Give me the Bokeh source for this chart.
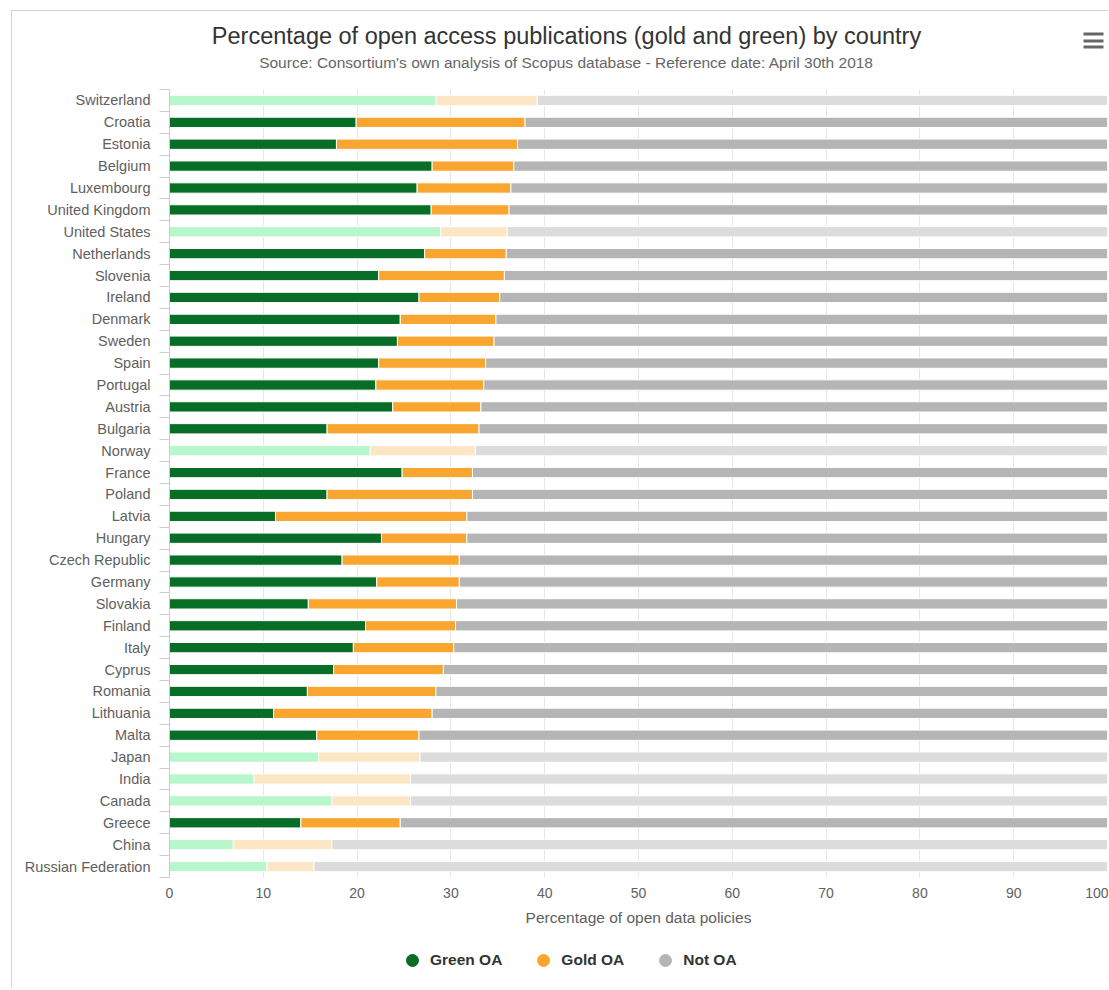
import math
from bokeh.plotting import figure
from bokeh.layouts import column
from bokeh.models import (ColumnDataSource, Range1d, FixedTicker, Legend, LegendItem)
from bokeh.core.properties import value
from bokeh.embed import file_html
from bokeh.resources import INLINE

title_text = "Percentage of open access publications (gold and green) by country"
subtitle_text = "Source: Consortium's own analysis of Scopus database - Reference date: April 30th 2018"
x_axis_title = "Percentage of open data policies"

countries = ["Switzerland", "Croatia", "Estonia", "Belgium", "Luxembourg",
             "United Kingdom", "United States", "Netherlands", "Slovenia", "Ireland",
             "Denmark", "Sweden", "Spain", "Portugal", "Austria", "Bulgaria", "Norway",
             "France", "Poland", "Latvia", "Hungary", "Czech Republic", "Germany",
             "Slovakia", "Finland", "Italy", "Cyprus", "Romania", "Lithuania", "Malta",
             "Japan", "India", "Canada", "Greece", "China", "Russian Federation"]
green_oa = [28.4, 19.9, 17.8, 28.0, 26.4, 27.9, 28.9, 27.2, 22.3, 26.6,
            24.6, 24.3, 22.3, 22.0, 23.8, 16.8, 21.4, 24.8, 16.8, 11.3,
            22.6, 18.4, 22.1, 14.8, 20.9, 19.6, 17.5, 14.7, 11.1, 15.7,
            15.9, 9.0, 17.3, 14.0, 6.8, 10.4]
gold_oa = [10.8, 18.0, 19.3, 8.7, 10.0, 8.3, 7.1, 8.7, 13.4, 8.6,
           10.2, 10.3, 11.4, 11.5, 9.4, 16.2, 11.2, 7.5, 15.5, 20.4,
           9.1, 12.5, 8.8, 15.8, 9.6, 10.7, 11.7, 13.7, 16.9, 10.9,
           10.8, 16.7, 8.4, 10.6, 10.5, 5.0]
eu_member = [False, True, True, True, True, True, False, True, True, True,
             True, True, True, True, True, True, False, True, True, True,
             True, True, True, True, True, True, True, True, True, True,
             False, False, False, True, False, False]
x_ticks = [0, 10, 20, 30, 40, 50, 60, 70, 80, 90, 100]
series_names = ["Green OA", "Gold OA", "Not OA"]
series_colors = ["#086d26", "#f9a630", "#b5b5b5"]
faded_colors = ["#b7f7cb", "#fde6c6", "#dcdcdc"]

FONT = "Liberation Sans"
W = 1108
LEFT = 169          # frame left edge (page px); frames of the column are aligned
RIGHT = W - 1
HEAD_H = 80
MAIN_H = 852
FOOT_H = 56


def blank(height):
    f = figure(width=W, height=height, x_range=Range1d(LEFT, RIGHT),
               y_range=Range1d(height, 0), output_backend="svg", toolbar_location=None,
               x_axis_location=None, y_axis_location=None,
               min_border_left=0, min_border_right=0, min_border_top=0, min_border_bottom=0)
    f.outline_line_color = None
    f.xgrid.visible = False
    f.ygrid.visible = False
    f.border_fill_color = None
    f.background_fill_color = None
    return f


# ---------------- header (title, subtitle, menu icon) ----------------
head = blank(HEAD_H)
head.text(x=[566], y=[35], text=[title_text], text_align="center", text_baseline="middle",
          text_font=value(FONT), text_font_size="23.5px", text_color="#333333")
head.text(x=[566], y=[62], text=[subtitle_text], text_align="center", text_baseline="middle",
          text_font=value(FONT), text_font_size="15.5px", text_color="#666666")
head.quad(left=[1083, 1083, 1083], right=[1103, 1103, 1103],
          top=[32, 39, 45], bottom=[35, 42, 48], fill_color="#666666", line_color=None)

# ---------------- main chart ----------------
n = len(countries)
ys = list(range(n))
gold_end = [g + o for g, o in zip(green_oa, gold_oa)]
src = ColumnDataSource(dict(
    y=ys,
    g_l=[0] * n, g_r=green_oa,
    o_l=green_oa, o_r=gold_end,
    n_l=gold_end, n_r=[100] * n,
    g_c=[series_colors[0] if e else faded_colors[0] for e in eu_member],
    o_c=[series_colors[1] if e else faded_colors[1] for e in eu_member],
    n_c=[series_colors[2] if e else faded_colors[2] for e in eu_member],
))

p = figure(width=W, height=MAIN_H, x_range=Range1d(0, 100),
           y_range=Range1d(n - 0.5, -0.5), output_backend="svg",
           toolbar_location=None, min_border_left=LEFT, min_border_right=W - RIGHT,
           min_border_top=9, min_border_bottom=55)
p.outline_line_color = None
p.border_fill_color = None
p.background_fill_color = "white"

bar_h = 0.47
for l, r, c in [("g_l", "g_r", "g_c"), ("o_l", "o_r", "o_c"), ("n_l", "n_r", "n_c")]:
    p.hbar(y="y", left=l, right=r, height=bar_h, fill_color=c,
           line_color="white", line_width=1, source=src)

# y axis
p.yaxis.ticker = FixedTicker(ticks=ys, minor_ticks=[i - 0.5 for i in range(n + 1)])
p.yaxis.major_label_overrides = {i: c for i, c in enumerate(countries)}
p.yaxis.major_tick_out = 0
p.yaxis.major_tick_in = 0
p.yaxis.major_tick_line_color = None
p.yaxis.minor_tick_out = 10
p.yaxis.minor_tick_in = 0
p.yaxis.minor_tick_line_color = "#cccccc"
p.yaxis.axis_line_color = "#cccccc"
p.yaxis.major_label_standoff = 9
p.yaxis.major_label_text_font = FONT
p.yaxis.major_label_text_font_size = "14.5px"
p.yaxis.major_label_text_color = "#606060"
p.ygrid.visible = False

# x axis
p.xaxis.ticker = FixedTicker(ticks=x_ticks)
p.xgrid.ticker = FixedTicker(ticks=x_ticks)
p.xgrid.grid_line_color = "#e6e6e6"
p.xaxis.axis_line_color = None
p.xaxis.major_tick_line_color = None
p.xaxis.minor_tick_line_color = None
p.xaxis.major_tick_out = 0
p.xaxis.major_label_standoff = 10
p.xaxis.major_label_text_font = FONT
p.xaxis.major_label_text_font_size = "14px"
p.xaxis.major_label_text_color = "#606060"
p.xaxis.axis_label = x_axis_title
p.xaxis.axis_label_text_font = FONT
p.xaxis.axis_label_text_font_size = "15.5px"
p.xaxis.axis_label_text_font_style = "normal"
p.xaxis.axis_label_text_color = "#606060"
p.xaxis.axis_label_standoff = 8

# ---------------- footer with legend (circle markers) ----------------
foot = blank(FOOT_H)
rends = []
for c in series_colors:
    rends.append(foot.scatter(x=[math.nan], y=[math.nan], marker="circle", size=14,
                              fill_color=c, line_color=c))
legend = Legend(items=[LegendItem(label=nm, renderers=[r]) for nm, r in zip(series_names, rends)],
                orientation="horizontal", location=(228, 13),
                border_line_color=None, background_fill_alpha=0,
                label_text_font=FONT, label_text_font_size="15.5px",
                label_text_font_style="bold", label_text_color="#333333",
                glyph_width=30, glyph_height=30, label_standoff=3, spacing=26)
foot.add_layout(legend, "center")

# chart container border (top and left edges), drawn as inset shadows
layout = column(head, p, foot, spacing=0,
                styles={"background-color": "white",
                        "box-shadow": "inset 11px 10px 0 0 #ffffff, inset 12px 11px 0 0 #d4d4d4"})
open("out.html", "w").write(file_html(layout, INLINE))
